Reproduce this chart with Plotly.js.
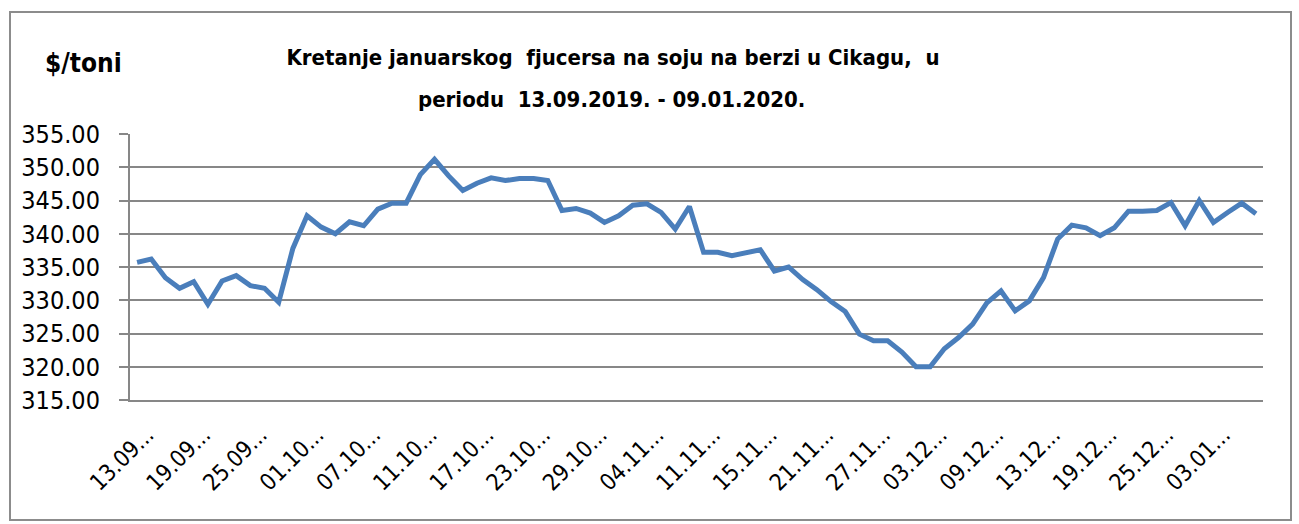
<!DOCTYPE html>
<html>
<head>
<meta charset="utf-8">
<script src="https://cdn.plot.ly/plotly-3.0.1.min.js"></script>
<style>
  html, body { margin: 0; padding: 0; background: #fff; }
  #wrap { position: relative; width: 1299px; height: 524px; }
  #chart { position: absolute; left: 0; top: 0; width: 1299px; height: 524px; }
  #frame { position: absolute; left: 9px; top: 11px; width: 1279px; height: 506px;
           border: 2px solid #8c8c8c; pointer-events: none; }
</style>
</head>
<body>
<div id="wrap">
  <div id="chart"></div>
  <div id="frame"></div>
</div>
<script>
// Trading dates (categories)
const dates = [
  "13.09.2019.","16.09.2019.","17.09.2019.","18.09.2019.","19.09.2019.","20.09.2019.","23.09.2019.","24.09.2019.",
  "25.09.2019.","26.09.2019.","27.09.2019.","30.09.2019.","01.10.2019.","02.10.2019.","03.10.2019.","04.10.2019.",
  "07.10.2019.","08.10.2019.","09.10.2019.","10.10.2019.","11.10.2019.","14.10.2019.","15.10.2019.","16.10.2019.",
  "17.10.2019.","18.10.2019.","21.10.2019.","22.10.2019.","23.10.2019.","24.10.2019.","25.10.2019.","28.10.2019.",
  "29.10.2019.","30.10.2019.","31.10.2019.","01.11.2019.","04.11.2019.","05.11.2019.","06.11.2019.","08.11.2019.",
  "11.11.2019.","12.11.2019.","13.11.2019.","14.11.2019.","15.11.2019.","18.11.2019.","19.11.2019.","20.11.2019.",
  "21.11.2019.","22.11.2019.","25.11.2019.","26.11.2019.","27.11.2019.","28.11.2019.","29.11.2019.","02.12.2019.",
  "03.12.2019.","04.12.2019.","05.12.2019.","06.12.2019.","09.12.2019.","10.12.2019.","11.12.2019.","12.12.2019.",
  "13.12.2019.","16.12.2019.","17.12.2019.","18.12.2019.","19.12.2019.","20.12.2019.","23.12.2019.","24.12.2019.",
  "25.12.2019.","27.12.2019.","30.12.2019.","02.01.2020.","03.01.2020.","06.01.2020.","08.01.2020.","09.01.2020."
];

// Price of January soybean futures, $/t
const prices = [
  335.7, 336.2, 333.4, 331.8, 332.8, 329.4, 332.9, 333.7,
  332.2, 331.8, 329.7, 337.8, 342.7, 341.0, 340.0, 341.8,
  341.2, 343.7, 344.6, 344.6, 348.9, 351.2, 348.7, 346.5,
  347.6, 348.4, 348.0, 348.3, 348.3, 348.0, 343.5, 343.8,
  343.1, 341.7, 342.7, 344.3, 344.5, 343.2, 340.7, 344.1,
  337.2, 337.2, 336.7, 337.1, 337.6, 334.4, 335.0, 333.1,
  331.6, 329.8, 328.3, 324.9, 323.9, 323.9, 322.2, 320.0,
  320.0, 322.7, 324.4, 326.4, 329.6, 331.4, 328.4, 329.9,
  333.4, 339.2, 341.3, 340.9, 339.7, 340.9, 343.4, 343.4,
  343.5, 344.7, 341.2, 345.0, 341.7, 343.2, 344.6, 343.0
];

const titleLine1 = "Kretanje januarskog  fjucersa na soju na berzi u Cikagu,  u";
const titleLine2 = "periodu  13.09.2019. - 09.01.2020.";
const unitLabel = "$/toni";

// every 4th category is labelled, truncated like the original
const tickDates = dates.filter((d, i) => i % 4 === 0);
const tickTexts = tickDates.map(d => d.slice(0, 5) + "...");

const FONT = "'DejaVu Sans Condensed', 'Liberation Sans', sans-serif";
const GRID = "#878787";

const trace = {
  type: "scatter",
  mode: "lines",
  x: dates,
  y: prices,
  line: { color: "#4a7ebb", width: 5 },
  hoverinfo: "x+y"
};

const layout = {
  width: 1299,
  height: 524,
  margin: { l: 130, r: 36, t: 134, b: 124 },
  paper_bgcolor: "#fff",
  plot_bgcolor: "#fff",
  showlegend: false,
  font: { family: FONT, color: "#000" },
  title: {
    text: "<b>" + titleLine1 + "</b>",
    font: { family: FONT, size: 22, color: "#000" },
    xref: "container", x: 613 / 1299, xanchor: "center",
    yref: "container", y: 1 - 57 / 524, yanchor: "middle"
  },
  annotations: [
    {
      text: "<b>" + titleLine2 + "</b>",
      xref: "paper", yref: "paper",
      x: (611 - 130) / 1133, y: (400 - 100) / 266,
      xanchor: "center", yanchor: "middle", showarrow: false,
      font: { family: FONT, size: 22, color: "#000" }
    },
    {
      text: "<b>" + unitLabel + "</b>",
      xref: "paper", yref: "paper",
      x: (83 - 130) / 1133, y: (400 - 63) / 266,
      xanchor: "center", yanchor: "middle", showarrow: false,
      font: { family: FONT, size: 26, color: "#000" }
    }
  ],
  xaxis: {
    type: "category",
    range: [-0.5, dates.length - 0.5],
    tickmode: "array",
    tickvals: tickDates,
    ticktext: tickTexts,
    tickangle: -45,
    tickfont: { family: FONT, size: 23, color: "#000" },
    ticks: "",
    showgrid: false,
    showline: true,
    linecolor: GRID,
    linewidth: 2,
    zeroline: false,
    ticklabelstandoff: 10,
    ticklabelshift: 10
  },
  yaxis: {
    range: [315, 355],
    dtick: 5,
    tick0: 315,
    tickformat: ".2f",
    tickfont: { family: FONT, size: 25, color: "#000" },
    ticks: "outside",
    ticklen: 9,
    tickwidth: 2,
    tickcolor: GRID,
    showgrid: true,
    gridcolor: GRID,
    gridwidth: 2,
    showline: true,
    linecolor: GRID,
    linewidth: 2,
    zeroline: false,
    ticklabelstandoff: 14
  }
};

Plotly.newPlot("chart", [trace], layout, { displayModeBar: false, staticPlot: true });
</script>
</body>
</html>
